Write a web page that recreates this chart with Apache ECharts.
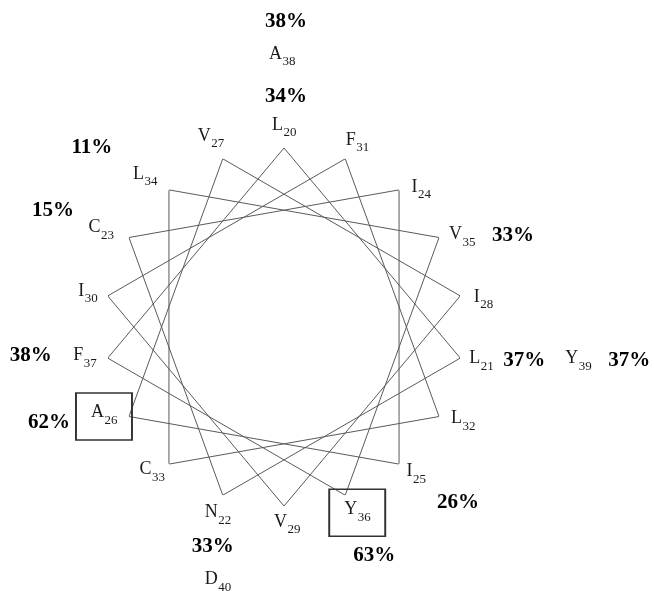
<!DOCTYPE html>
<html>
<head>
<meta charset="utf-8">
<title>Helical wheel, residues 20–40</title>
<script src="https://cdn.jsdelivr.net/npm/echarts@6/dist/echarts.min.js"></script>
<style>
  html, body { margin: 0; padding: 0; background: #fff; }
  #chart { width: 654px; height: 591px; }
</style>
</head>
<body>
<div id="chart"></div>
<script>
// Sequence positions and one-letter residues (positions 20..40)
const firstPosition = 20;
const residues = ['L', 'L', 'N', 'C', 'I', 'I', 'A', 'V', 'I', 'V', 'I', 'F', 'L', 'C', 'L', 'V', 'Y', 'F', 'A', 'Y', 'D'];
// Residues 20..37 form the wheel; 38..40 sit outside on the second turn
const wheelLast = 37;
// Positions carrying a percentage, and the percentages
const percentPositions = [38, 20, 34, 23, 35, 21, 39, 37, 26, 25, 36, 22];
const percentValues = [38, 34, 11, 15, 33, 37, 37, 38, 62, 26, 63, 33];
// Boxed residues
const boxedPositions = [26, 36];

// α-helix: 100° rotation per residue
const degPerResidue = 100;
const angleOf = p => ((p - firstPosition) * degPerResidue) % 360;

// Label offsets (px) from the wheel vertex each label belongs to
const residueLabelOffset = {
  20: [0, -20], 21: [21, 3], 22: [-5, 20], 23: [-28, -7], 24: [22, 0], 25: [17, 10],
  26: [-25, -1], 27: [-12, -20], 28: [23, 4], 29: [3, 19], 30: [-20, -2], 31: [12, -16],
  32: [24, 5], 33: [-17, 8], 34: [-24, -13], 35: [23, 0], 36: [12, 17], 37: [-23, 0],
  38: [-2, -91], 39: [118, 3], 40: [-5, 87]
};
const percentOffset = {
  38: [2, -126], 20: [2, -51], 34: [-77, -42], 23: [-76, -27], 35: [74, -2], 21: [64, 2],
  39: [169, 2], 37: [-77, -3], 26: [-80, 6], 25: [59, 38], 36: [29, 60], 22: [-10, 51]
};
const boxOffset = { 26: [-25, 0], 36: [12, 17.5] };

const serif = '"Liberation Serif", "DejaVu Serif", serif';
const letterFont = { size: 18, color: '#1a1a1a' };
const subFont = { size: 13, color: '#1a1a1a' };

const wheelPositions = [];
for (let p = firstPosition; p <= wheelLast; p++) wheelPositions.push(p);
const allPositions = residues.map((_, i) => firstPosition + i);

const vertex = p => [1, angleOf(p)];
const anchorOf = p => (p <= wheelLast ? p : p - 18);

// Text widths, so letter + subscript can be centred as one label
const measureCtx = document.createElement('canvas').getContext('2d');
function textWidth(text, size) {
  measureCtx.font = size + 'px ' + serif;
  return measureCtx.measureText(text).width;
}

// Letter (right-aligned) and subscript number (left-aligned, lowered) share a pivot
function residueLabelItem(p, i, part) {
  const off = residueLabelOffset[p];
  const wL = textWidth(residues[i], letterFont.size);
  const wN = textWidth(String(p), subFont.size);
  const pivotX = off[0] + (wL - wN) / 2;
  const isLetter = part === 'letter';
  return {
    value: vertex(anchorOf(p)),
    label: {
      show: true,
      position: 'inside',
      align: isLetter ? 'right' : 'left',
      verticalAlign: 'middle',
      offset: isLetter ? [pivotX, off[1] - 3] : [pivotX + 0.5, off[1] + 5],
      formatter: isLetter ? residues[i] : String(p),
      fontFamily: serif,
      fontSize: isLetter ? letterFont.size : subFont.size,
      color: isLetter ? letterFont.color : subFont.color
    }
  };
}

const chart = echarts.init(document.getElementById('chart'));

const hiddenPoint = { symbolSize: 1, itemStyle: { color: 'rgba(0,0,0,0)', opacity: 1 } };

chart.setOption({
  animation: false,
  backgroundColor: '#ffffff',
  polar: { center: [284, 327], radius: 179 },
  angleAxis: {
    type: 'value', min: 0, max: 360, startAngle: 90, clockwise: true,
    show: false, splitLine: { show: false }
  },
  radiusAxis: { type: 'value', min: 0, max: 1, show: false, splitLine: { show: false } },
  series: [
    {
      // The wheel: consecutive residues joined, closed back to the first
      type: 'line',
      coordinateSystem: 'polar',
      data: wheelPositions.concat([firstPosition]).map(vertex),
      symbol: 'none',
      lineStyle: { color: '#5a5a5a', width: 1 },
      z: 1
    },
    {
      type: 'scatter',
      coordinateSystem: 'polar',
      data: boxedPositions.map(p => ({
        value: vertex(p),
        symbolOffset: boxOffset[p]
      })),
      symbol: 'rect',
      symbolSize: [56, 47],
      itemStyle: { color: 'rgba(0,0,0,0)', borderColor: '#333', borderWidth: 1.8, opacity: 1 },
      z: 2
    },
    Object.assign({
      type: 'scatter',
      coordinateSystem: 'polar',
      data: allPositions.map((p, i) => residueLabelItem(p, i, 'letter')),
      z: 3
    }, hiddenPoint),
    Object.assign({
      type: 'scatter',
      coordinateSystem: 'polar',
      data: allPositions.map((p, i) => residueLabelItem(p, i, 'number')),
      z: 3
    }, hiddenPoint),
    Object.assign({
      type: 'scatter',
      coordinateSystem: 'polar',
      data: percentPositions.map((p, i) => ({
        value: vertex(anchorOf(p)),
        label: {
          show: true,
          position: 'inside',
          offset: percentOffset[p],
          formatter: percentValues[i] + '%',
          fontFamily: serif,
          fontWeight: 'bold',
          fontSize: 21,
          color: '#000'
        }
      })),
      z: 3
    }, hiddenPoint)
  ]
});
</script>
</body>
</html>
